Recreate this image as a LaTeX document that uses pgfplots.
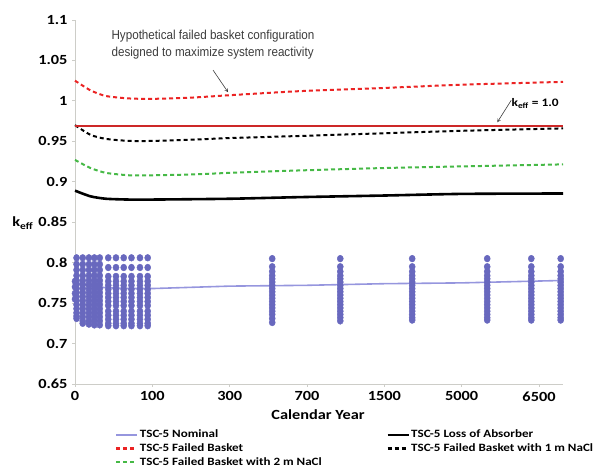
\documentclass[border=0pt]{standalone}
\usepackage{fontspec}
\setmainfont{Carlito}[FakeStretch=1.17]
\newfontfamily\narrowfont[FakeStretch=0.9]{Liberation Sans}
\usepackage{pgfplots}
\pgfplotsset{compat=1.18}
\definecolor{nomblue}{RGB}{104,104,190}
\definecolor{nomline}{RGB}{150,150,222}
\definecolor{fbred}{RGB}{235,35,35}
\definecolor{kred}{RGB}{205,40,40}
\definecolor{fbgreen}{RGB}{70,185,70}
\definecolor{axgray}{RGB}{205,205,200}
\definecolor{anngray}{RGB}{60,60,60}
\begin{document}
\begin{tikzpicture}[x=1bp,y=1bp]
\useasboundingbox (0,0) rectangle (598,474);
\begin{axis}[
  at={(75bp,90bp)}, anchor=south west,
  width=488bp, height=364bp, scale only axis,
  xmin=0, xmax=6.31, ymin=0.65, ymax=1.1,
  axis x line*=bottom, axis y line*=left,
  axis line style={axgray, line width=0.8bp},
  tick style={axgray, line width=0.8bp},
  tick align=outside, major tick length=3bp,
  xtick={0,1,2,3,4,5,6},
  xticklabels={0,100,300,700,1500,5000,6500},
  ytick={0.65,0.7,0.75,0.8,0.85,0.9,0.95,1,1.05,1.1},
  yticklabels={0.65,0.7,0.75,0.8,0.85,0.9,0.95,1,1.05,1.1},
  /pgf/number format/assume math mode=true,
  ticklabel style={font=\fontsize{14}{16}\selectfont\bfseries, text=black},
  xticklabel style={yshift=-1bp},
  yticklabel style={xshift=-1bp},
  xlabel={Calendar Year},
  xlabel style={font=\fontsize{14}{16}\selectfont\bfseries, at={(axis description cs:0.498,-0.085)}, anchor=center},
  ylabel={k\textsubscript{eff}},
  ylabel style={font=\fontsize{14}{16}\selectfont\bfseries, rotate=-90, at={(axis description cs:-0.107,0.442)}, anchor=center},
  clip=false,
  legend columns=2,
  legend style={at={(0.082,-0.122)}, anchor=north west, draw=none, fill=none,
    font=\fontsize{11.2}{13.5}\selectfont\bfseries, inner sep=0pt, row sep=1.4bp,
    nodes={inner sep=1.5bp},
    /tikz/every even column/.append style={column sep=63bp}},
  legend cell align=left,
  legend image code/.code={\draw[#1] (0bp,0bp) -- (21bp,0bp);},
]
% nominal trend line
\addplot[nomline, line width=1.6bp, forget plot] coordinates {
 (0,0.776) (0.2,0.771) (0.4,0.769) (0.7,0.768) (1,0.768) (2,0.771) (3,0.772) (4,0.774) (5,0.775) (6.31,0.778)};
% nominal scatter
\addplot[only marks, mark=*, mark size=3.4bp, mark options={xscale=0.9}, color=nomblue, forget plot] coordinates {
 (0.00,0.755) (0.00,0.762) (0.00,0.770) (0.00,0.777)
 (0.02,0.806) (0.02,0.798) (0.02,0.791) (0.02,0.784) (0.02,0.778) (0.02,0.773) (0.02,0.768) (0.02,0.763) (0.02,0.758) (0.02,0.753) (0.02,0.748) (0.02,0.743) (0.02,0.738) (0.02,0.734) (0.02,0.731)
 (0.10,0.806) (0.10,0.798) (0.10,0.791) (0.10,0.784) (0.10,0.778) (0.10,0.773) (0.10,0.768) (0.10,0.763) (0.10,0.758) (0.10,0.753) (0.10,0.748) (0.10,0.743) (0.10,0.738) (0.10,0.733) (0.10,0.728) (0.10,0.725)
 (0.18,0.806) (0.18,0.798) (0.18,0.791) (0.18,0.784) (0.18,0.778) (0.18,0.773) (0.18,0.768) (0.18,0.763) (0.18,0.758) (0.18,0.753) (0.18,0.748) (0.18,0.743) (0.18,0.738) (0.18,0.733) (0.18,0.728) (0.18,0.724)
 (0.25,0.806) (0.25,0.798) (0.25,0.791) (0.25,0.784) (0.25,0.778) (0.25,0.773) (0.25,0.768) (0.25,0.763) (0.25,0.758) (0.25,0.753) (0.25,0.748) (0.25,0.743) (0.25,0.738) (0.25,0.733) (0.25,0.728) (0.25,0.723)
 (0.32,0.806) (0.32,0.798) (0.32,0.791) (0.32,0.784) (0.32,0.778) (0.32,0.773) (0.32,0.768) (0.32,0.763) (0.32,0.758) (0.32,0.753) (0.32,0.748) (0.32,0.743) (0.32,0.738) (0.32,0.733) (0.32,0.728) (0.32,0.723)
 (0.43,0.806) (0.43,0.794) (0.43,0.783) (0.43,0.777) (0.43,0.772) (0.43,0.767) (0.43,0.762) (0.43,0.757) (0.43,0.752) (0.43,0.747) (0.43,0.740) (0.43,0.735) (0.43,0.730) (0.43,0.725) (0.43,0.722)
 (0.53,0.806) (0.53,0.794) (0.53,0.783) (0.53,0.777) (0.53,0.772) (0.53,0.767) (0.53,0.762) (0.53,0.757) (0.53,0.752) (0.53,0.747) (0.53,0.740) (0.53,0.735) (0.53,0.730) (0.53,0.725) (0.53,0.722)
 (0.63,0.806) (0.63,0.794) (0.63,0.783) (0.63,0.777) (0.63,0.772) (0.63,0.767) (0.63,0.762) (0.63,0.757) (0.63,0.752) (0.63,0.747) (0.63,0.740) (0.63,0.735) (0.63,0.730) (0.63,0.725) (0.63,0.722)
 (0.73,0.806) (0.73,0.794) (0.73,0.783) (0.73,0.777) (0.73,0.772) (0.73,0.767) (0.73,0.762) (0.73,0.757) (0.73,0.752) (0.73,0.747) (0.73,0.740) (0.73,0.735) (0.73,0.730) (0.73,0.725) (0.73,0.722)
 (0.84,0.806) (0.84,0.794) (0.84,0.783) (0.84,0.777) (0.84,0.772) (0.84,0.767) (0.84,0.762) (0.84,0.757) (0.84,0.752) (0.84,0.747) (0.84,0.740) (0.84,0.735) (0.84,0.730) (0.84,0.725) (0.84,0.722)
 (0.94,0.806) (0.94,0.794) (0.94,0.783) (0.94,0.777) (0.94,0.772) (0.94,0.767) (0.94,0.762) (0.94,0.757) (0.94,0.752) (0.94,0.747) (0.94,0.740) (0.94,0.735) (0.94,0.730) (0.94,0.725) (0.94,0.722)
 (2.55,0.805) (2.55,0.795) (2.55,0.789) (2.55,0.784) (2.55,0.780) (2.55,0.776) (2.55,0.772) (2.55,0.768) (2.55,0.764) (2.55,0.760) (2.55,0.756) (2.55,0.752) (2.55,0.748) (2.55,0.744) (2.55,0.740) (2.55,0.736) (2.55,0.731) (2.55,0.726)
 (3.43,0.805) (3.43,0.795) (3.43,0.789) (3.43,0.784) (3.43,0.780) (3.43,0.776) (3.43,0.772) (3.43,0.768) (3.43,0.764) (3.43,0.760) (3.43,0.756) (3.43,0.752) (3.43,0.748) (3.43,0.744) (3.43,0.740) (3.43,0.736) (3.43,0.732) (3.43,0.728)
 (4.36,0.805) (4.36,0.795) (4.36,0.789) (4.36,0.784) (4.36,0.780) (4.36,0.776) (4.36,0.772) (4.36,0.768) (4.36,0.764) (4.36,0.760) (4.36,0.756) (4.36,0.752) (4.36,0.748) (4.36,0.744) (4.36,0.740) (4.36,0.736) (4.36,0.732) (4.36,0.729)
 (5.33,0.805) (5.33,0.795) (5.33,0.789) (5.33,0.784) (5.33,0.780) (5.33,0.776) (5.33,0.772) (5.33,0.768) (5.33,0.764) (5.33,0.760) (5.33,0.756) (5.33,0.752) (5.33,0.748) (5.33,0.744) (5.33,0.740) (5.33,0.736) (5.33,0.732) (5.33,0.729)
 (5.90,0.805) (5.90,0.795) (5.90,0.789) (5.90,0.784) (5.90,0.780) (5.90,0.776) (5.90,0.772) (5.90,0.768) (5.90,0.764) (5.90,0.760) (5.90,0.756) (5.90,0.752) (5.90,0.748) (5.90,0.744) (5.90,0.740) (5.90,0.736) (5.90,0.732) (5.90,0.729)
 (6.28,0.805) (6.28,0.795) (6.28,0.789) (6.28,0.784) (6.28,0.780) (6.28,0.776) (6.28,0.772) (6.28,0.768) (6.28,0.764) (6.28,0.760) (6.28,0.756) (6.28,0.752) (6.28,0.748) (6.28,0.744) (6.28,0.740) (6.28,0.736) (6.28,0.732) (6.28,0.729)
};
% loss of absorber
\addplot[black, line width=2.6bp, smooth, tension=0.4, forget plot] coordinates {
 (0,0.889) (0.2,0.882) (0.4,0.879) (0.7,0.878) (1,0.878) (2,0.879) (2.9,0.881) (4,0.883) (5,0.885) (6.31,0.8855)};
% failed basket 2 m NaCl
\addplot[fbgreen, line width=2bp, dash pattern=on 4bp off 3bp, smooth, tension=0.4, forget plot] coordinates {
 (0,0.927) (0.2,0.917) (0.4,0.911) (0.7,0.908) (1,0.908) (1.5,0.909) (2,0.911) (2.9,0.914) (4,0.917) (5,0.919) (6.31,0.9215)};
% failed basket 1 m NaCl
\addplot[black, line width=2bp, dash pattern=on 4bp off 3bp, smooth, tension=0.4, forget plot] coordinates {
 (0,0.970) (0.2,0.958) (0.4,0.953) (0.7,0.9505) (1,0.9505) (1.5,0.952) (2,0.954) (2.9,0.9566) (4,0.960) (5,0.963) (6.31,0.966)};
% k_eff reference line
\addplot[kred, line width=2.4bp, forget plot] coordinates {(0,0.969) (6.31,0.969)};
% failed basket
\addplot[fbred, line width=2bp, dash pattern=on 4bp off 3bp, smooth, tension=0.4, forget plot] coordinates {
 (0,1.025) (0.2,1.013) (0.4,1.006) (0.7,1.003) (1,1.0025) (1.5,1.004) (2,1.007) (2.9,1.012) (4,1.016) (5,1.020) (6.31,1.0235)};
% legend
\addlegendimage{nomline, line width=2bp}
\addlegendentry{TSC-5 Nominal}
\addlegendimage{black, line width=2.4bp}
\addlegendentry{TSC-5 Loss of Absorber}
\addlegendimage{fbred, line width=2.2bp, dash pattern=on 4bp off 3bp}
\addlegendentry{TSC-5 Failed Basket}
\addlegendimage{black, line width=2.2bp, dash pattern=on 4bp off 3bp}
\addlegendentry{TSC-5 Failed Basket with 1 m NaCl}
\addlegendimage{fbgreen, line width=2.2bp, dash pattern=on 4bp off 3bp}
\addlegendentry{TSC-5 Failed Basket with 2 m NaCl}
% annotations
\node[anchor=west, align=left, text=anngray, font=\narrowfont\fontsize{13}{17}\selectfont] at (axis cs:0.427,1.069)
  {Hypothetical failed basket configuration\\designed to maximize system reactivity};
\draw[anngray, line width=0.6bp, -stealth] (axis cs:1.785,1.038) -- (axis cs:1.979,1.0107);
\node[font=\fontsize{11.5}{14}\selectfont\bfseries] at (axis cs:5.95,0.997) {k\textsubscript{eff} = 1.0};
\draw[anngray, line width=0.6bp, -stealth] (axis cs:5.64,1.0007) -- (axis cs:5.46,0.9735);
\end{axis}
\end{tikzpicture}
\end{document}
